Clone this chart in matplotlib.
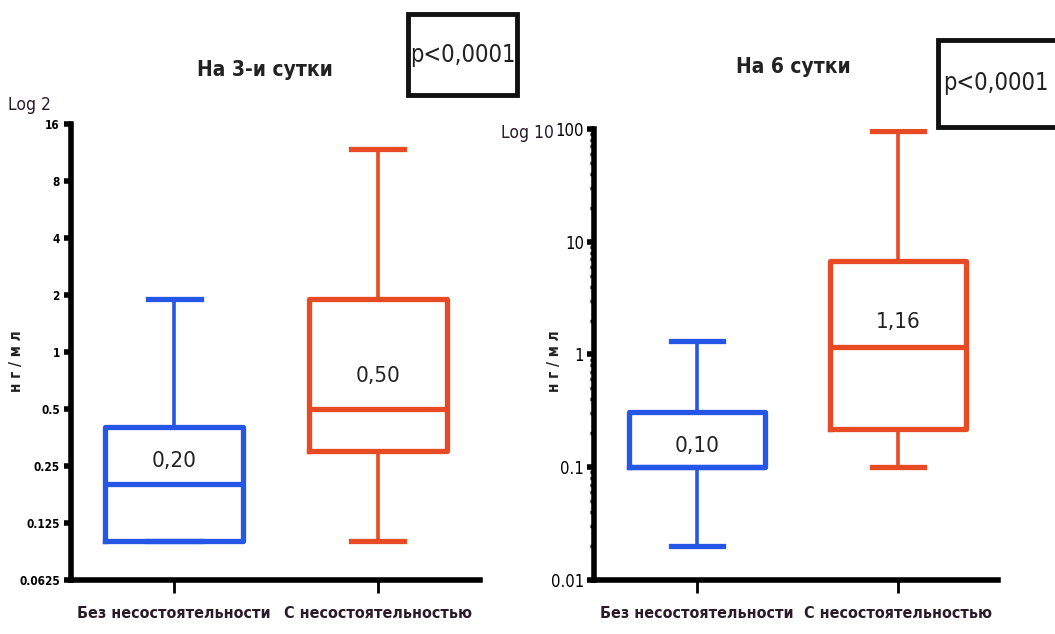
"""
Box plots: marker levels (ng/ml) on day 3 and day 6, without vs with anastomotic leak.
"""

import matplotlib
matplotlib.use("Agg")
import matplotlib.pyplot as plt
from matplotlib.patches import Rectangle
from matplotlib.ticker import FixedLocator, FixedFormatter, LogLocator, NullFormatter

plt.rcParams["font.family"] = ["DejaVu Sans"]
plt.rcParams["font.stretch"] = "condensed"

# Data
categories = ["Без несостоятельности", "С несостоятельностью"]

day3_whislo = [0.10, 0.10]
day3_q1 = [0.10, 0.30]
day3_med = [0.20, 0.50]
day3_q3 = [0.40, 1.90]
day3_whishi = [1.90, 11.8]
day3_labels = ["0,20", "0,50"]

day6_whislo = [0.02, 0.10]
day6_q1 = [0.10, 0.22]
day6_med = [0.10, 1.16]
day6_q3 = [0.31, 6.70]
day6_whishi = [1.33, 95.0]
day6_labels = ["0,10", "1,16"]

day3_ticks = [0.0625, 0.125, 0.25, 0.5, 1, 2, 4, 8, 16]
day3_ticklabels = ["0.0625", "0.125", "0.25", "0.5", "1", "2", "4", "8", "16"]
day6_ticks = [0.01, 0.1, 1, 10, 100]
day6_ticklabels = ["0.01", "0.1", "1", "10", "100"]

COLORS = ["#2457e8", "#e84a23"]


def draw_panel(ax, whislo, q1, med, q3, whishi, labels, label_offsets):
    stats = []
    for i in range(len(categories)):
        stats.append(dict(whislo=whislo[i], q1=q1[i], med=med[i], q3=q3[i],
                          whishi=whishi[i], fliers=[]))
    parts = ax.bxp(stats, positions=[0, 1], widths=0.68, capwidths=0.26,
                   showfliers=False, patch_artist=False)
    for i, c in enumerate(COLORS):
        parts["boxes"][i].set(color=c, linewidth=3.8)
        parts["medians"][i].set(color=c, linewidth=3.8)
        for w in parts["whiskers"][2 * i:2 * i + 2]:
            w.set(color=c, linewidth=2.6)
        for cap in parts["caps"][2 * i:2 * i + 2]:
            cap.set(color=c, linewidth=3.8)
        ax.annotate(labels[i], xy=(i, med[i]), xytext=(0, label_offsets[i]),
                    textcoords="offset points", ha="center", va="center",
                    fontsize=16, color="#222222")

    for side in ["top", "right"]:
        ax.spines[side].set_visible(False)
    for side in ["left", "bottom"]:
        ax.spines[side].set_linewidth(4)
    ax.set_xticks([0, 1])
    ax.set_xticklabels(categories, fontsize=11.5, fontweight="bold", color="#2a1a2a")
    ax.tick_params(axis="x", length=9, width=2, pad=10)


fig = plt.figure(figsize=(10.55, 6.34), dpi=100)

# Left panel: day 3, log2 axis
ax1 = fig.add_axes([0.0673, 0.0852, 0.3876, 0.7193])
ax1.set_yscale("log", base=2)
draw_panel(ax1, day3_whislo, day3_q1, day3_med, day3_q3, day3_whishi,
           day3_labels, [17, 24])
ax1.set_ylim(0.0625, 16)
ax1.set_xlim(-0.507, 1.502)
ax1.yaxis.set_major_locator(FixedLocator(day3_ticks))
ax1.yaxis.set_major_formatter(FixedFormatter(day3_ticklabels))
ax1.yaxis.set_minor_locator(FixedLocator([]))
ax1.tick_params(axis="y", length=5, width=4, labelsize=8.5, pad=3)
for t in ax1.get_yticklabels():
    t.set_fontweight("bold")

# Right panel: day 6, log10 axis
ax2 = fig.add_axes([0.563, 0.0852, 0.383, 0.7114])
ax2.set_yscale("log")
draw_panel(ax2, day6_whislo, day6_q1, day6_med, day6_q3, day6_whishi,
           day6_labels, [15, 18])
ax2.set_ylim(0.01, 100)
ax2.set_xlim(-0.512, 1.498)
ax2.yaxis.set_major_locator(FixedLocator(day6_ticks))
ax2.yaxis.set_major_formatter(FixedFormatter(day6_ticklabels))
ax2.yaxis.set_minor_locator(LogLocator(base=10, subs=range(2, 10)))
ax2.yaxis.set_minor_formatter(NullFormatter())
ax2.tick_params(axis="y", which="major", length=5, width=4, labelsize=12, pad=2)
ax2.tick_params(axis="y", which="minor", length=3, width=2.5)

# Titles, axis notes and p-value boxes
fig.text(0.251, 0.89, "На 3-и сутки", ha="center", va="center",
         fontsize=15, fontweight="bold", color="#222222")
fig.text(0.752, 0.895, "На 6 сутки", ha="center", va="center",
         fontsize=15, fontweight="bold", color="#222222")
fig.text(0.028, 0.835, "Log 2", ha="center", va="center", fontsize=12.5, color="#2a1a2a")
fig.text(0.525, 0.79, "Log 10", ha="right", va="center", fontsize=12.5, color="#2a1a2a")
fig.text(0.016, 0.43, "н г / м л", rotation=90, ha="center", va="center",
         fontsize=11, fontweight="bold", color="#222222")
fig.text(0.526, 0.43, "н г / м л", rotation=90, ha="center", va="center",
         fontsize=11, fontweight="bold", color="#222222")

for x0, y0, w, h in [(0.3867, 0.850, 0.1033, 0.128), (0.889, 0.800, 0.114, 0.137)]:
    fig.patches.append(Rectangle((x0, y0), w, h, transform=fig.transFigure,
                                 facecolor="white", edgecolor="#111111",
                                 linewidth=3.5, zorder=5))
fig.text(0.4383, 0.914, "p<0,0001", ha="center", va="center", fontsize=17,
         color="#222222", zorder=6)
fig.text(0.944, 0.869, "p<0,0001", ha="center", va="center", fontsize=17,
         color="#222222", zorder=6)

fig.savefig("out.png", dpi=100)
